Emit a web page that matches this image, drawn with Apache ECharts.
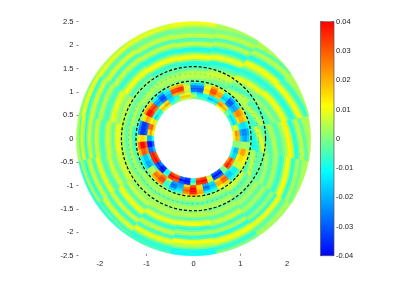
<!DOCTYPE html>
<html><head><meta charset="utf-8">
<style>html,body{margin:0;padding:0;background:#fff}#c{width:407px;height:287px;filter:blur(0.55px)}</style>
<script src="https://cdn.jsdelivr.net/npm/echarts@6/dist/echarts.min.js"></script>
</head><body><div id="c"></div>
<script>
// values are in thousandths of the colour scale; each row is one angular sector, inner to outer ring
const innerRadii=[0.85,0.9,0.95,1.0,1.05,1.1,1.15,1.2,1.25];
const innerField=[
[8,20,18,-15,-20,-22,-16,-4],[10,25,20,-20,-25,-25,-20,-6],[4,10,5,-12,-15,-15,-12,-3],[-6,-15,-12,15,20,20,16,5],
[-6,-15,-10,20,25,25,20,6],[0,-3,-8,-18,-22,-20,-15,-4],[8,20,15,-24,-30,-30,-22,-6],[12,25,20,-10,-18,-15,-10,-2],
[-5,-15,-12,18,22,20,14,4],[-8,-20,-12,25,32,30,22,6],[-4,-10,-8,12,15,12,8,2],[-3,-10,-15,-28,-30,-25,-16,-4],
[2,5,-5,-25,-30,-25,-16,-4],[6,18,12,3,8,8,4,0],[5,18,5,22,34,35,22,5],[0,-5,-10,20,32,32,20,5],
[-5,-12,-15,-18,-18,-14,-8,-2],[8,22,15,-26,-32,-30,-20,-5],[6,18,8,-18,-24,-20,-10,-2],[-5,-12,-5,28,35,30,18,4],
[-6,-15,-5,34,40,38,22,5],[6,15,12,18,22,15,6,0],[15,30,28,-28,-35,-35,-24,-5],[10,22,15,-28,-35,-35,-25,-6],
[-10,-20,-20,8,15,15,8,0],[-28,-40,-38,30,40,40,28,6],[-18,-28,-28,24,30,30,20,4],[30,38,35,-10,-18,-18,-12,-2],
[32,40,35,-15,-20,-22,-14,-2],[-25,-35,-30,-5,5,5,2,0],[-35,-40,-35,18,25,28,20,4],[-8,-12,-5,26,32,32,24,5],
[32,40,35,5,-5,-8,-3,0],[30,38,30,-22,-28,-25,-15,-2],[-28,-38,-30,-22,-20,-15,-8,0],[-35,-40,-35,15,25,30,24,8],
[-8,-10,0,32,40,40,36,18],[30,38,35,15,15,20,22,10],[32,40,35,-20,-28,-22,-12,-2],[5,10,5,-15,-18,-15,-9,-2],
[-30,-38,-30,14,20,20,12,3],[-30,-38,-28,24,30,28,16,4],[0,0,0,-14,-18,-15,-9,-2],[30,38,30,-6,-12,-12,-6,0],
[25,35,25,6,6,8,8,8],[-8,-15,-15,10,15,15,12,8],[-10,-20,-18,16,22,22,14,4],[0,0,0,2,3,3,2,0]
];
const outerStart=1.25, outerStop=2.5;
const outerField=[
[-9,-9,-5,3,10,5,-1,-4,-5,-1,4,4,-1,-4,-4,0,3,6,12,13,2,-8,-8,-1,5,5,-3,-3,3,4],
[-6,-4,3,6,2,-2,-6,-5,-1,2,1,-2,-3,3,9,12,6,-3,-7,-9,-6,1,10,12,5,-3,-7,-6,1,4],
[4,6,4,-1,-6,-4,-1,0,4,9,9,3,-4,-6,-9,-7,-1,3,9,12,7,-3,-8,-8,-1,4,5,-2,-4,4],
[-3,-1,2,4,7,7,4,1,-4,-5,-9,-9,2,9,10,4,-3,-8,-9,-2,4,5,-3,-5,4,6,2,-1,1,4],
[0,4,5,5,4,-1,-4,-5,-9,-8,2,10,11,4,-3,-9,-9,-1,6,5,-4,-5,5,6,1,-1,-1,2,8,10],
[0,4,4,3,1,-2,-3,-3,-6,-7,1,10,11,4,-3,-8,-8,-1,5,6,-3,-5,4,7,2,-2,-2,3,10,7],
[0,3,4,2,-3,-3,0,1,-3,-5,1,9,11,5,-2,-7,-7,-1,5,6,-2,-7,2,9,4,-3,-3,5,12,4],
[-2,1,4,2,-4,-1,3,5,6,0,2,5,9,9,2,-5,-5,-3,3,6,0,-6,0,8,5,-3,-8,7,10,1],
[-7,-4,4,0,-4,0,4,5,9,10,3,-3,1,6,8,0,-5,-5,0,6,6,-4,0,9,2,-8,3,10,-3,4],
[-5,0,4,0,-3,2,4,5,7,7,2,-3,0,5,8,1,-4,-5,0,8,10,-1,-6,2,7,2,-8,-2,5,-7],
[1,4,2,-3,0,3,3,3,1,4,7,2,-5,0,7,12,6,-4,-7,2,8,3,-7,-4,5,9,2,-7,-2,-7],
[4,4,2,-3,1,3,3,2,3,5,3,-3,1,8,10,2,-6,-7,2,6,3,-6,-3,8,10,4,-3,-8,-7,-5],
[4,4,0,-4,0,4,4,0,4,5,1,-4,4,10,10,-3,-8,-2,5,2,-8,-5,9,11,6,4,-1,-9,-10,-10],
[4,2,-2,-3,1,4,3,-2,2,4,2,-4,-1,5,7,2,-7,-3,4,3,-8,-7,4,10,10,4,-3,-8,-5,0],
[8,6,0,-4,-3,1,1,-3,0,3,3,-1,-4,1,4,1,-4,-7,-1,3,-2,-8,5,12,6,-2,-4,0,4,3],
[-5,3,6,2,-4,-3,-1,-3,-1,3,2,-3,-4,1,4,1,-5,-8,-4,4,10,12,2,-8,-5,3,3,-3,1,4]
];
// radial change of the bands across each outer sector (the bands spiral on the eastern side)
const bandDrift=[-0.17,-0.2,-0.18,-0.1,-0.02,-0.01,-0.02,-0.03,-0.01,-0.02,0.03,0,0,-0.01,-0.03,-0.12];
const dashedRadii=[1.23,1.54];
const dottedRadii=[1.39];
const xTicks=[-2,-1,0,1,2];
const xTickMarks=[-1,1];

const stops=[[0,[0,0,255]],[0.36,[0,255,255]],[0.64,[255,255,0]],[1,[255,0,0]]];
function colorOf(v){
  const t=Math.max(0,Math.min(1,(v+40)/80));
  for(let i=1;i<stops.length;i++){
    if(t<=stops[i][0]){
      const a=stops[i-1],b=stops[i],f=(t-a[0])/(b[0]-a[0]);
      return 'rgb('+a[1].map((c,j)=>Math.round(c+(b[1][j]-c)*f)).join(',')+')';
    }
  }
  return 'rgb(255,0,0)';
}
const cells=[];
const dIn=360/innerField.length, dOut=360/outerField.length;
innerField.forEach((row,k)=>row.forEach((v,i)=>cells.push([(k-0.5)*dIn,(k+0.5)*dIn,innerRadii[i],innerRadii[i+1],v,0,innerRadii[0],innerRadii[row.length]])));
outerField.forEach((row,k)=>{const dr=(outerStop-outerStart)/row.length;
  row.forEach((v,i)=>cells.push([(k-0.5)*dOut,(k+0.5)*dOut,
    i===0?outerStart-1:outerStart+i*dr, i===row.length-1?outerStop+1:outerStart+(i+1)*dr, v, bandDrift[k], outerStart, outerStop]));});
const pt=(api,r,deg)=>api.coord([r*Math.cos(deg*Math.PI/180),r*Math.sin(deg*Math.PI/180)]);
function renderCell(params,api){
  const a0=api.value(0),a1=api.value(1),r0=api.value(2),r1=api.value(3),v=api.value(4),drift=api.value(5),lo=api.value(6),hi=api.value(7);
  const pts=[];const n=Math.max(2,Math.ceil((a1-a0)/2));
  const rad=(r,f)=>Math.max(lo,Math.min(hi,r+drift*(f-0.5)));
  for(let i=0;i<=n;i++)pts.push(pt(api,rad(r1,i/n),a0+(a1-a0)*i/n));
  for(let i=n;i>=0;i--)pts.push(pt(api,rad(r0,i/n),a0+(a1-a0)*i/n));
  const c=colorOf(v);
  return {type:'polygon',shape:{points:pts},style:{fill:c,stroke:c,lineWidth:0.6}};
}
function renderRing(dash,width,color){return function(params,api){
  const r=api.value(0),pts=[];
  for(let a=0;a<=360;a+=3)pts.push(pt(api,r,a));
  return {type:'polyline',shape:{points:pts},style:{fill:null,stroke:color,lineWidth:width,lineDash:dash}};
};}
const font={fontFamily:'Liberation Sans',fontSize:7.5,color:'#222'};
const chart=echarts.init(document.getElementById('c'),null,{renderer:'canvas'});
chart.setOption({
  animation:false,
  grid:[{left:76.5,top:21.7,width:234,height:234},{left:320.5,top:21.7,width:13.5,height:234}],
  xAxis:[
    {gridIndex:0,type:'value',min:-2.5,max:2.5,axisLine:{show:false,onZero:false},splitLine:{show:false},
     axisTick:{show:true,inside:true,length:2,customValues:xTickMarks,lineStyle:{color:'#555',width:0.7}},
     axisLabel:{...font,margin:4,customValues:xTicks,formatter:v=>String(v)}},
    {gridIndex:1,type:'value',min:0,max:1,show:false}
  ],
  yAxis:[
    {gridIndex:0,type:'value',min:-2.5,max:2.5,interval:0.5,axisLine:{show:false,onZero:false},splitLine:{show:false},
     axisTick:{show:true,inside:true,length:2,lineStyle:{color:'#555',width:0.7}},
     axisLabel:{...font,margin:3,formatter:v=>String(v)}},
    {gridIndex:1,type:'value',position:'right',min:-0.04,max:0.04,interval:0.01,axisLine:{show:false,onZero:false},splitLine:{show:false},
     axisTick:{show:true,inside:true,length:2,lineStyle:{color:'#444',width:0.7}},
     axisLabel:{...font,margin:2,formatter:v=>String(+v.toFixed(2))}},
    {gridIndex:1,type:'value',position:'left',min:-0.04,max:0.04,interval:0.01,axisLine:{show:false,onZero:false},splitLine:{show:false},
     axisTick:{show:true,inside:true,length:2,lineStyle:{color:'#444',width:0.7}},axisLabel:{show:false}}
  ],
  series:[
    {type:'custom',xAxisIndex:0,yAxisIndex:0,coordinateSystem:'cartesian2d',renderItem:renderCell,data:cells,clip:false,silent:true,
     encode:{x:-1,y:-1}},
    {type:'custom',xAxisIndex:0,yAxisIndex:0,coordinateSystem:'cartesian2d',renderItem:renderRing([1,4],0.45,'#555'),data:dottedRadii.map(r=>[r]),clip:false,silent:true,z:3,encode:{x:-1,y:-1}},
    {type:'custom',xAxisIndex:0,yAxisIndex:0,coordinateSystem:'cartesian2d',renderItem:renderRing([3,2],1.2,'#000'),data:dashedRadii.map(r=>[r]),clip:false,silent:true,z:4,encode:{x:-1,y:-1}},
    {type:'custom',xAxisIndex:1,yAxisIndex:1,coordinateSystem:'cartesian2d',silent:true,z:1,clip:false,data:[[0,-0.04,1,0.04]],encode:{x:-1,y:-1},
     renderItem(params,api){
       const p0=api.coord([api.value(0),api.value(1)]),p1=api.coord([api.value(2),api.value(3)]);
       return {type:'rect',shape:{x:p0[0],y:p1[1],width:p1[0]-p0[0],height:p0[1]-p1[1]},
         style:{stroke:'#555',lineWidth:0.7,fill:new echarts.graphic.LinearGradient(0,1,0,0,
           stops.map(s=>({offset:s[0],color:'rgb('+s[1].join(',')+')'})))}};
     }}
  ]
});
</script></body></html>
